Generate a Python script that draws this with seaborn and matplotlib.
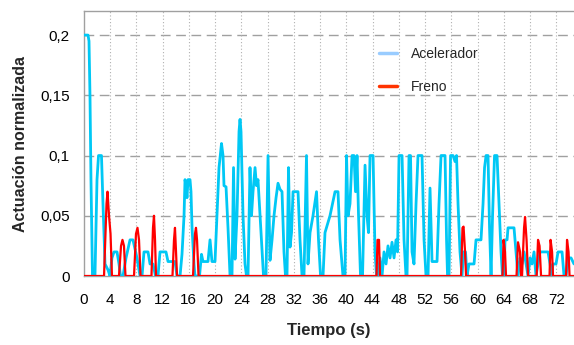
import pandas as pd
import seaborn as sns
import matplotlib.pyplot as plt
from matplotlib.lines import Line2D
from matplotlib.ticker import FuncFormatter

# Acelerador (normalised pedal actuation)
acel_t = [0.00, 0.65, 0.80, 0.95, 1.10, 1.33, 1.71, 2.02, 2.25, 2.70, 2.93, 3.24, 3.70, 4.00,
          4.30, 4.61, 5.07, 5.37, 5.60, 5.98, 6.44, 7.05, 7.50, 8.11, 8.57, 8.88, 9.18, 9.79,
          10.10, 10.55, 10.93, 11.31, 11.62, 12.53, 12.84, 13.90, 14.21, 14.67, 14.97, 15.28,
          15.43, 15.58, 15.73, 15.89, 16.19, 16.34, 16.50, 16.80, 16.95, 17.64, 17.94, 18.17,
          18.93, 19.24, 19.54, 20.00, 20.30, 20.61, 20.99, 21.22, 21.37, 21.68, 21.98, 22.29,
          22.59, 22.82, 23.05, 23.35, 23.66, 23.81, 23.96, 24.27, 24.57, 24.80, 25.03, 25.33,
          25.56, 25.79, 26.10, 26.32, 26.55, 26.86, 27.16, 27.39, 27.77, 28.08, 28.38, 28.69,
          28.99, 29.30, 29.60, 29.90, 30.21, 30.51, 30.74, 30.97, 31.20, 31.43, 31.66, 31.89,
          32.65, 32.95, 33.26, 33.56, 33.94, 34.17, 34.48, 34.93, 35.47, 35.77, 36.08, 36.46,
          36.76, 37.52, 37.83, 38.29, 38.74, 39.05, 39.50, 39.81, 40.04, 40.27, 40.57, 40.88,
          41.18, 41.41, 41.64, 41.87, 42.17, 42.48, 42.86, 43.16, 43.39, 43.62, 44.08, 44.38,
          44.61, 44.84, 45.14, 45.45, 45.75, 46.06, 46.36, 46.67, 46.97, 47.28, 47.58, 47.81,
          48.04, 48.50, 48.80, 49.10, 49.26, 49.56, 49.79, 50.02, 50.32, 50.63, 50.93, 51.54,
          51.85, 52.15, 52.46, 52.76, 53.07, 53.83, 54.13, 54.44, 55.05, 55.28, 55.43, 55.66,
          55.89, 56.27, 56.57, 56.80, 57.03, 57.33, 57.64, 57.87, 58.17, 58.40, 58.70, 59.47,
          59.77, 60.53, 60.84, 61.07, 61.30, 61.60, 61.83, 62.06, 62.29, 62.59, 62.97, 63.28,
          63.58, 63.81, 64.04, 64.19, 64.50, 64.65, 65.56, 65.87, 66.17, 66.48, 66.78, 67.09,
          67.39, 67.70, 68.00, 68.30, 68.61, 68.91, 69.22, 69.52, 70.74, 71.05, 71.28, 71.50,
          71.96, 72.27, 72.88, 73.18, 73.49, 73.79, 74.25, 74.70]
acel_v = [0.200, 0.200, 0.195, 0.150, 0.080, 0.000, 0.000, 0.080, 0.100, 0.100, 0.060, 0.010, 0.005, 0.000,
          0.015, 0.020, 0.020, 0.010, 0.000, 0.000, 0.015, 0.030, 0.030, 0.015, 0.000, 0.000, 0.020, 0.020,
          0.010, 0.010, 0.000, 0.000, 0.020, 0.020, 0.012, 0.012, 0.000, 0.000, 0.018, 0.050,
          0.080, 0.075, 0.065, 0.080, 0.080, 0.070, 0.040, 0.010, 0.000, 0.000, 0.018, 0.012,
          0.012, 0.030, 0.012, 0.012, 0.050, 0.090, 0.110, 0.100, 0.075, 0.074, 0.040, 0.000,
          0.000, 0.090, 0.014, 0.050, 0.120, 0.130, 0.120, 0.050, 0.010, 0.000, 0.000, 0.090,
          0.050, 0.070, 0.090, 0.075, 0.080, 0.050, 0.020, 0.000, 0.000, 0.100, 0.013, 0.030,
          0.050, 0.065, 0.077, 0.072, 0.070, 0.020, 0.000, 0.000, 0.090, 0.024, 0.036, 0.070,
          0.070, 0.030, 0.000, 0.000, 0.100, 0.010, 0.036, 0.050, 0.070, 0.030, 0.000, 0.000,
          0.036, 0.050, 0.058, 0.070, 0.070, 0.030, 0.000, 0.000, 0.100, 0.050, 0.060, 0.100,
          0.100, 0.070, 0.100, 0.050, 0.000, 0.000, 0.092, 0.050, 0.036, 0.100, 0.100, 0.020,
          0.000, 0.000, 0.015, 0.000, 0.020, 0.010, 0.025, 0.015, 0.028, 0.015, 0.030, 0.020,
          0.100, 0.100, 0.030, 0.000, 0.000, 0.100, 0.100, 0.020, 0.010, 0.060, 0.100, 0.100,
          0.030, 0.000, 0.000, 0.073, 0.012, 0.012, 0.060, 0.100, 0.100, 0.030, 0.000, 0.000,
          0.100, 0.100, 0.095, 0.100, 0.060, 0.020, 0.000, 0.020, 0.020, 0.000, 0.010, 0.010,
          0.030, 0.030, 0.060, 0.090, 0.100, 0.100, 0.040, 0.000, 0.050, 0.100, 0.100, 0.060,
          0.020, 0.000, 0.000, 0.030, 0.030, 0.040, 0.040, 0.020, 0.000, 0.015, 0.010, 0.020,
          0.010, 0.000, 0.015, 0.010, 0.020, 0.000, 0.010, 0.020, 0.020, 0.010, 0.000, 0.010,
          0.010, 0.020, 0.020, 0.000, 0.000, 0.015, 0.015, 0.010]

# Freno (brake) - flat at zero with short spikes
freno_t = [0.00, 3.09, 3.47, 3.62, 3.85, 4.08, 4.30, 5.37, 5.68, 5.90, 6.13, 6.36,
           7.66, 7.96, 8.19, 8.42, 8.65, 10.32, 10.55, 10.70, 10.86, 11.01,
           13.52, 13.75, 13.90, 14.06, 14.21, 16.65, 16.95, 17.10, 17.26, 17.49,
           44.61, 44.76, 44.99, 45.14, 57.49, 57.71, 57.87, 58.10, 58.25,
           63.81, 63.96, 64.19, 64.34, 65.94, 66.17, 66.48, 66.63,
           66.78, 67.09, 67.24, 67.47, 67.70, 69.01, 69.22, 69.45, 69.68,
           70.97, 71.13, 71.36, 71.50, 73.49, 73.64, 73.87, 74.02, 74.70]
freno_v = [0.000, 0.000, 0.060, 0.070, 0.050, 0.035, 0.000, 0.000, 0.025, 0.030, 0.025, 0.000,
           0.000, 0.035, 0.040, 0.030, 0.000, 0.000, 0.040, 0.050, 0.030, 0.000,
           0.000, 0.030, 0.040, 0.020, 0.000, 0.000, 0.035, 0.040, 0.030, 0.000,
           0.000, 0.030, 0.030, 0.000, 0.000, 0.040, 0.041, 0.020, 0.000,
           0.000, 0.030, 0.020, 0.000, 0.000, 0.028, 0.020, 0.000,
           0.000, 0.040, 0.049, 0.030, 0.000, 0.000, 0.030, 0.025, 0.000,
           0.000, 0.030, 0.020, 0.000, 0.000, 0.030, 0.020, 0.000, 0.000]

x_ticks = list(range(0, 76, 4))
y_ticks = [0, 0.05, 0.1, 0.15, 0.2]

sns.set_theme(style="white")
plt.rcParams['font.family'] = ['Liberation Sans', 'DejaVu Sans']

fig = plt.figure(figsize=(5.74, 3.45), dpi=100)
ax = fig.add_axes([83.75 / 574, 69 / 345, 490.25 / 574, 265 / 345])

df_acel = pd.DataFrame({'t': acel_t, 'v': acel_v})
df_freno = pd.DataFrame({'t': freno_t, 'v': freno_v})

sns.lineplot(data=df_acel, x='t', y='v', ax=ax, color='#00C8F5', lw=2.0,
             estimator=None, sort=False, zorder=3)
sns.lineplot(data=df_freno, x='t', y='v', ax=ax, color='#FF0000', lw=1.6,
             estimator=None, sort=False, zorder=4)

ax.set_xlim(0, 74.7)
ax.set_ylim(0, 0.22)
ax.set_xticks(x_ticks)
ax.set_yticks(y_ticks)
ax.yaxis.set_major_formatter(FuncFormatter(lambda v, p: f"{v:g}".replace('.', ',')))

# grid: dashed horizontals, dotted verticals
for y in y_ticks[1:]:
    ax.axhline(y, color='#A0A0A0', lw=1.0, dashes=(7, 4), zorder=1)
for x in x_ticks[1:]:
    ax.axvline(x, color='#B0B0B0', lw=0.8, dashes=(1, 2), zorder=1)

for side in ['top', 'left', 'bottom']:
    ax.spines[side].set_color('#A0A0A0')
    ax.spines[side].set_linewidth(1.0)
ax.spines['right'].set_visible(False)

ax.tick_params(axis='both', which='major', direction='out', length=4, width=1,
               color='#A0A0A0', labelsize=11, labelcolor='#000000')
ax.tick_params(axis='x', pad=8)
ax.tick_params(axis='y', pad=6)

ax.set_xlabel('Tiempo (s)', fontsize=12, fontweight='bold', labelpad=12)
ax.set_ylabel('Actuación normalizada', fontsize=11.5, fontweight='bold', labelpad=9)

handles = [Line2D([], [], color='#99CCFF', lw=2.5),
           Line2D([], [], color='#FF3300', lw=2.5)]
ax.legend(handles, ['Acelerador', 'Freno'], loc='center left',
          bbox_to_anchor=(0.577, 0.775), frameon=False, fontsize=10,
          handlelength=1.3, handletextpad=1.0, labelspacing=1.35)

plt.savefig('out.png', dpi=100)
